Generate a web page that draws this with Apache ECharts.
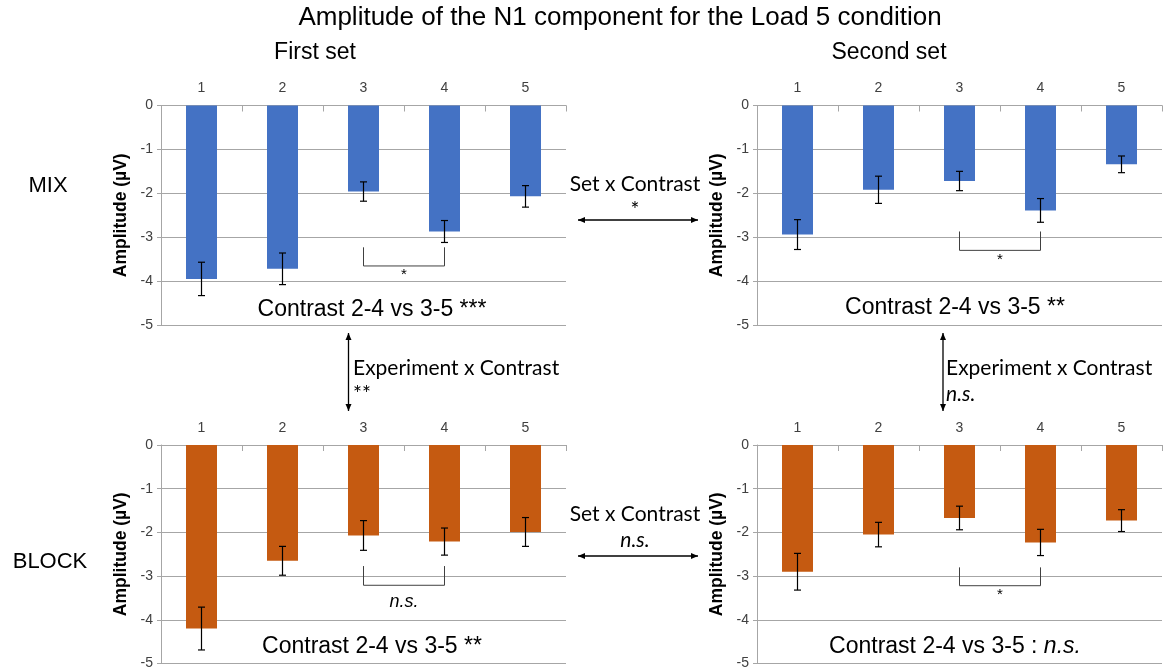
<!DOCTYPE html>
<html>
<head>
<meta charset="utf-8">
<script src="https://cdn.jsdelivr.net/npm/echarts@6/dist/echarts.min.js"></script>
<style>
  html, body { margin: 0; padding: 0; background: #fff; }
  #chart { width: 1172px; height: 672px; }
</style>
</head>
<body>
<div id="chart"></div>
<script>
// Contrast levels along the top axis of each panel
const categories = ['1', '2', '3', '4', '5'];
const yTicks = [0, -1, -2, -3, -4, -5];

// Mean N1 amplitude (µV) and error half-widths per panel
const mixFirst = [-3.95, -3.72, -1.96, -2.87, -2.07];
const mixFirstErr = [0.38, 0.36, 0.22, 0.25, 0.245];
const mixSecond = [-2.94, -1.92, -1.72, -2.39, -1.34];
const mixSecondErr = [0.34, 0.31, 0.22, 0.27, 0.19];
const blockFirst = [-4.20, -2.65, -2.07, -2.21, -1.99];
const blockFirstErr = [0.49, 0.33, 0.34, 0.31, 0.33];
const blockSecond = [-2.90, -2.05, -1.67, -2.23, -1.73];
const blockSecondErr = [0.42, 0.28, 0.27, 0.30, 0.25];

// Pairwise comparison 3 vs 4: [from category, to category, top, bottom, label y]
const mixFirstBracket = [2, 3, -3.23, -3.655, -3.86];
const mixSecondBracket = [2, 3, -2.87, -3.30, -3.52];
const blockFirstBracket = [2, 3, -2.77, -3.21, -3.59];
const blockSecondBracket = [2, 3, -2.80, -3.22, -3.44];
const bracketLabels = ['*', '*', 'n.s.', '*'];

const panels = [
  { values: mixFirst, err: mixFirstErr, bracket: mixFirstBracket, color: '#4472C4' },
  { values: mixSecond, err: mixSecondErr, bracket: mixSecondBracket, color: '#4472C4' },
  { values: blockFirst, err: blockFirstErr, bracket: blockFirstBracket, color: '#C55A11' },
  { values: blockSecond, err: blockSecondErr, bracket: blockSecondBracket, color: '#C55A11' }
];

const gridBoxes = [
  { left: 161, top: 105.5, width: 405, height: 219.5 },
  { left: 757, top: 105.5, width: 405, height: 219.5 },
  { left: 161, top: 445, width: 405, height: 218.5 },
  { left: 757, top: 445, width: 405, height: 218.5 }
];

const AXIS_FONT = '"Liberation Sans", Arial, sans-serif';
const NOTE_FONT = 'Lato, "Open Sans", sans-serif';
const gridGray = '#a6a6a6';

const grid = gridBoxes.map(b => Object.assign({ containLabel: false }, b));

const xAxis = panels.map((p, i) => ({
  type: 'category',
  gridIndex: i,
  position: 'top',
  data: categories,
  axisLine: { show: true, lineStyle: { color: gridGray, width: 1 } },
  axisTick: { show: true, inside: true, length: 6, lineStyle: { color: gridGray } },
  axisLabel: { color: '#404040', fontSize: 14, fontFamily: AXIS_FONT, margin: 10 },
  splitLine: { show: false }
}));

const yAxis = panels.map((p, i) => ({
  type: 'value',
  gridIndex: i,
  min: yTicks[yTicks.length - 1],
  max: yTicks[0],
  interval: 1,
  name: 'Amplitude (µV)',
  nameLocation: 'middle',
  nameGap: 31,
  nameTextStyle: { color: '#000', fontSize: 17.5, fontWeight: 'bold', fontFamily: AXIS_FONT },
  axisLine: { show: true, lineStyle: { color: gridGray, width: 1 } },
  axisTick: { show: true, length: 4, lineStyle: { color: gridGray } },
  axisLabel: { color: '#404040', fontSize: 14, fontFamily: AXIS_FONT, margin: 8 },
  splitLine: { show: true, lineStyle: { color: gridGray, width: 1 } }
}));

const series = [];
panels.forEach((p, i) => {
  series.push({
    type: 'bar',
    xAxisIndex: i,
    yAxisIndex: i,
    data: p.values,
    barWidth: 31,
    itemStyle: { color: p.color },
    silent: true,
    animation: false
  });
  // error bars
  series.push({
    type: 'custom',
    xAxisIndex: i,
    yAxisIndex: i,
    silent: true,
    animation: false,
    data: p.values.map((v, k) => [k, v - p.err[k], v + p.err[k]]),
    renderItem: function (params, api) {
      const lo = api.coord([api.value(0), api.value(1)]);
      const hi = api.coord([api.value(0), api.value(2)]);
      const cap = 3.5;
      const style = { stroke: '#000', lineWidth: 1.2 };
      return {
        type: 'group',
        children: [
          { type: 'line', shape: { x1: lo[0], y1: lo[1], x2: hi[0], y2: hi[1] }, style },
          { type: 'line', shape: { x1: lo[0] - cap, y1: lo[1], x2: lo[0] + cap, y2: lo[1] }, style },
          { type: 'line', shape: { x1: hi[0] - cap, y1: hi[1], x2: hi[0] + cap, y2: hi[1] }, style }
        ]
      };
    },
    z: 5
  });
  // comparison bracket between contrasts 3 and 4
  series.push({
    type: 'custom',
    xAxisIndex: i,
    yAxisIndex: i,
    silent: true,
    animation: false,
    data: [p.bracket],
    renderItem: function (params, api) {
      const a = api.coord([api.value(0), api.value(2)]);
      const b = api.coord([api.value(0), api.value(3)]);
      const c = api.coord([api.value(1), api.value(3)]);
      const d = api.coord([api.value(1), api.value(2)]);
      const ly = api.coord([api.value(0), api.value(4)])[1];
      const mx = (b[0] + c[0]) / 2;
      const label = bracketLabels[i];
      const italic = label === 'n.s.';
      return {
        type: 'group',
        children: [
          {
            type: 'polyline',
            shape: { points: [a, b, c, d] },
            style: { stroke: '#404040', lineWidth: 1, fill: null }
          },
          {
            type: 'text',
            x: mx,
            y: ly,
            style: {
              text: label,
              fill: '#000',
              font: (italic ? 'italic 18px ' : '15px ') + AXIS_FONT,
              align: 'center',
              verticalAlign: 'middle'
            }
          }
        ]
      };
    },
    z: 5
  });
});

function txt(x, y, text, font, align, rich) {
  const style = { text, x, y, fill: '#000', font, align: align || 'center', verticalAlign: 'middle' };
  if (rich) style.rich = rich;
  return { type: 'text', style, silent: true };
}

function arrow(x1, y1, x2, y2) {
  const ang = Math.atan2(y2 - y1, x2 - x1);
  const len = 7, half = 3;
  const head = (x, y, a) => {
    const bx = x - len * Math.cos(a), by = y - len * Math.sin(a);
    const px = -Math.sin(a) * half, py = Math.cos(a) * half;
    return { type: 'polygon', shape: { points: [[x, y], [bx + px, by + py], [bx - px, by - py]] }, style: { fill: '#000' }, silent: true };
  };
  return {
    type: 'group',
    silent: true,
    children: [
      { type: 'line', shape: { x1, y1, x2, y2 }, style: { stroke: '#000', lineWidth: 1.3 }, silent: true },
      head(x2, y2, ang),
      head(x1, y1, ang + Math.PI)
    ]
  };
}

const noteFont = '21px ' + NOTE_FONT;
const contrastFont = '23px ' + AXIS_FONT;

const graphic = [
  txt(620, 18, 'Amplitude of the N1 component for the Load 5 condition', '26px ' + AXIS_FONT),
  txt(315, 53, 'First set', '23px ' + AXIS_FONT),
  txt(889, 53, 'Second set', '23px ' + AXIS_FONT),
  txt(48, 186, 'MIX', '22px ' + AXIS_FONT),
  txt(50, 562, 'BLOCK', '22px ' + AXIS_FONT),
  txt(372, 310, 'Contrast 2-4 vs 3-5 ***', contrastFont),
  txt(955, 308, 'Contrast 2-4 vs 3-5 **', contrastFont),
  txt(372, 647, 'Contrast 2-4 vs 3-5 **', contrastFont),
  txt(955, 647, '{n|Contrast 2-4 vs 3-5 : }{i|n.s.}', contrastFont, 'center', {
    n: { font: contrastFont, fill: '#000' },
    i: { font: 'italic ' + contrastFont, fill: '#000' }
  }),
  // Set x Contrast (MIX)
  txt(635, 184, 'Set x Contrast', noteFont),
  txt(635, 210, '*', noteFont),
  arrow(578, 220, 698, 220),
  // Set x Contrast (BLOCK)
  txt(635, 514, 'Set x Contrast', noteFont),
  txt(635, 540, 'n.s.', 'italic ' + noteFont),
  arrow(578, 556, 698, 556),
  // Experiment x Contrast (first set)
  arrow(348.5, 333, 348.5, 411),
  txt(353, 368, 'Experiment x Contrast', noteFont, 'left'),
  txt(353, 394, '**', noteFont, 'left'),
  // Experiment x Contrast (second set)
  arrow(943, 333, 943, 411),
  txt(946, 368, 'Experiment x Contrast', noteFont, 'left'),
  txt(946, 394, 'n.s.', 'italic ' + noteFont, 'left')
];

const chart = echarts.init(document.getElementById('chart'), null, { renderer: 'canvas' });
chart.setOption({
  backgroundColor: '#fff',
  animation: false,
  grid,
  xAxis,
  yAxis,
  series,
  graphic
});
</script>
</body>
</html>
